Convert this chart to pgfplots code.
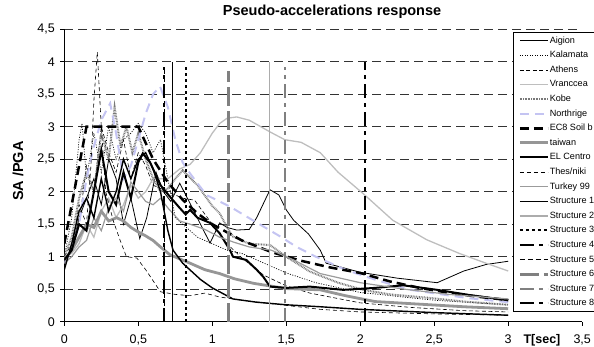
\documentclass[border=0pt]{standalone}
\usepackage{fontspec}
\setmainfont{Liberation Sans}
\usepackage{pgfplots}
\pgfplotsset{compat=1.18}
\definecolor{lav}{RGB}{196,196,242}
\definecolor{vgray}{RGB}{190,190,190}
\definecolor{tgray}{RGB}{150,150,150}
\definecolor{kgray}{RGB}{120,120,120}
\definecolor{ugray}{RGB}{155,155,155}
\definecolor{sgray}{RGB}{172,172,172}
\definecolor{dgray}{RGB}{128,128,128}
\begin{document}
\begin{tikzpicture}
\useasboundingbox (-64.3pt,-24.3pt) rectangle (529.7pt,321.7pt);
\begin{axis}[
 scale only axis, width=517.9pt, height=292.5pt,
 xmin=0,xmax=3.5,ymin=0,ymax=4.5,
 axis x line*=bottom, axis y line*=left,
 axis line style={line width=0.9pt, black},
 xtick={0,0.5,1,1.5,2,2.5,3,3.5}, ytick={0,0.5,1,1.5,2,2.5,3,3.5,4,4.5},
 tick align=outside, major tick length=4pt, tick style={line width=0.9pt, black},
 ymajorgrids, major grid style={dash pattern=on 9pt off 5pt, black!80, line width=0.6pt},
 /pgf/number format/use comma, /pgf/number format/assume math mode=true,
 tick label style={font=\fontsize{12.5}{14}\selectfont},
 xticklabel style={yshift=-6pt}, yticklabel style={xshift=-2pt},
 title={Pseudo-accelerations response},
 title style={at={(axis description cs:0.517,1.027)}, anchor=base, font=\fontsize{14.5}{16}\selectfont\bfseries},
 ylabel={SA /PGA},
 ylabel style={at={(axis description cs:-0.0894,0.515)}, anchor=center, font=\fontsize{14.5}{16}\selectfont\bfseries},
 xlabel={T[sec]},
 xlabel style={at={(axis description cs:0.880,-0.076)}, anchor=base west, font=\fontsize{12.5}{14}\selectfont\bfseries},
 legend image code/.code={\draw[#1,line cap=butt] (0pt,0pt) -- (28pt,0pt);},
 legend style={at={(axis description cs:0.8665,0.990)}, anchor=north west, draw=black, line width=0.6pt, fill=white,
   font=\fontsize{9.1}{10}\selectfont, inner xsep=5pt, inner ysep=3.5pt, row sep=5.1pt, column sep=0pt,
   nodes={inner sep=0.4pt, text height=6.7pt, text depth=2pt},
   cells={anchor=west}},
]
% Aigion (thin black)
\addplot[black, line width=0.8pt] coordinates {
(0,0.95)(0.05,1.1)(0.1,1.6)(0.15,1.9)(0.2,2.2)(0.25,1.8)(0.3,2.5)(0.35,2.2)(0.4,1.5)(0.45,1.9)(0.51,1.28)(0.557,1.6)(0.62,2.3)(0.67,2.0)(0.72,1.85)(0.78,2.13)(0.85,1.82)(0.92,1.5)(0.985,1.21)(1.05,1.52)(1.1,1.45)(1.165,1.41)(1.25,1.42)(1.3,1.6)(1.39,2.03)(1.45,1.95)(1.5,1.72)(1.55,1.56)(1.65,1.35)(1.73,1.1)(1.77,0.9)(2.0,0.76)(2.25,0.67)(2.52,0.6)(2.7,0.78)(2.85,0.88)(3.0,0.93)};
\addlegendentry{Aigion}
% Kalamata (dotted)
\addplot[black, line width=0.7pt, dash pattern=on 1pt off 1.5pt] coordinates {
(0,1.0)(0.05,1.6)(0.1,2.8)(0.12,3.05)(0.15,2.2)(0.2,2.9)(0.25,2.3)(0.3,3.0)(0.35,2.5)(0.4,2.8)(0.45,2.9)(0.5,3.05)(0.55,2.9)(0.6,2.6)(0.65,2.8)(0.7,2.2)(0.75,1.6)(0.8,1.5)(0.9,1.3)(1.0,1.2)(1.1,1.1)(1.2,1.05)(1.3,0.95)(1.5,0.75)(1.7,0.6)(2.0,0.45)(2.5,0.33)(3.0,0.26)};
\addlegendentry{Kalamata}
% Athens (dashed thin)
\addplot[black, line width=0.6pt, dash pattern=on 4pt off 2.5pt] coordinates {
(0,1.0)(0.05,1.2)(0.1,1.5)(0.15,2.4)(0.2,2.0)(0.25,3.0)(0.3,2.6)(0.35,2.3)(0.4,2.8)(0.45,2.2)(0.5,2.6)(0.55,2.4)(0.6,2.1)(0.7,2.0)(0.8,1.9)(0.88,1.87)(1.0,1.5)(1.1,1.2)(1.2,0.98)(1.345,0.72)(1.5,0.55)(1.66,0.44)(2.0,0.29)(2.34,0.22)(2.7,0.17)(3.0,0.15)};
\addlegendentry{Athens}
% Vranccea
\addplot[vgray, line width=1.3pt] coordinates {
(0,1.0)(0.05,1.05)(0.1,1.2)(0.15,1.5)(0.2,1.3)(0.25,1.7)(0.3,1.9)(0.35,1.6)(0.4,1.8)(0.45,2.1)(0.5,1.9)(0.55,2.0)(0.6,2.2)(0.7,2.2)(0.78,2.35)(0.85,2.42)(0.92,2.6)(1.0,2.9)(1.05,3.05)(1.1,3.13)(1.165,3.15)(1.25,3.1)(1.39,2.92)(1.49,2.8)(1.6,2.76)(1.73,2.6)(1.85,2.3)(2.02,1.97)(2.22,1.56)(2.45,1.26)(2.67,1.05)(2.85,0.9)(3.0,0.78)};
\addlegendentry{Vranccea}
% Kobe
\addplot[kgray, line width=2pt, dash pattern=on 0.8pt off 0.8pt] coordinates {
(0,1.0)(0.05,1.3)(0.1,1.9)(0.15,2.3)(0.2,2.0)(0.25,2.9)(0.3,2.5)(0.34,3.3)(0.38,2.7)(0.42,3.0)(0.46,2.6)(0.5,2.9)(0.55,2.5)(0.6,2.2)(0.65,2.0)(0.7,2.05)(0.75,2.2)(0.8,2.33)(0.9,2.1)(1.0,1.78)(1.05,1.67)(1.1,1.45)(1.14,1.31)(1.25,1.2)(1.39,1.18)(1.5,1.0)(1.66,0.77)(1.85,0.6)(2.02,0.49)(2.2,0.42)(2.45,0.37)(2.7,0.31)(3.0,0.26)};
\addlegendentry{Kobe}
% Northrige
\addplot[lav, line width=2pt, dash pattern=on 9pt off 6pt] coordinates {
(0,0.9)(0.05,1.1)(0.1,1.5)(0.15,2.2)(0.2,2.7)(0.25,3.1)(0.31,3.36)(0.35,2.9)(0.4,2.2)(0.45,2.4)(0.5,2.8)(0.55,3.2)(0.6,3.5)(0.647,3.62)(0.7,3.3)(0.75,2.8)(0.8,2.45)(0.85,2.28)(0.96,1.95)(1.12,1.77)(1.23,1.62)(1.46,1.31)(1.57,1.15)(1.7,1.0)(1.9,0.8)(2.11,0.64)(2.34,0.49)(2.55,0.42)(2.74,0.36)(3.0,0.3)};
\addlegendentry{Northrige}
% EC8 Soil b
\addplot[black, line width=2.5pt, dash pattern=on 9pt off 5pt] coordinates {
(0,1.2)(0.15,3.0)(0.5,3.0)(0.6,2.5)(0.7,2.143)(0.8,1.875)(0.9,1.667)(1.0,1.5)(1.2,1.25)(1.4,1.071)(1.6,0.9375)(1.8,0.833)(2.0,0.75)(2.2,0.62)(2.4,0.521)(2.6,0.444)(2.8,0.383)(3.0,0.333)};
\addlegendentry{EC8 Soil b}
% taiwan
\addplot[tgray, line width=2.8pt] coordinates {
(0,0.95)(0.05,1.1)(0.1,1.3)(0.15,1.5)(0.2,1.45)(0.25,1.7)(0.3,1.55)(0.354,1.6)(0.4,1.55)(0.45,1.45)(0.5,1.38)(0.55,1.32)(0.6,1.25)(0.65,1.15)(0.714,1.03)(0.85,0.9)(0.95,0.8)(1.05,0.74)(1.15,0.66)(1.28,0.59)(1.5,0.51)(1.73,0.49)(1.9,0.4)(2.1,0.31)(2.4,0.27)(2.7,0.23)(3.0,0.2)};
\addlegendentry{taiwan}
% EL Centro
\addplot[black, line width=2pt] coordinates {
(0,0.95)(0.05,1.1)(0.1,1.5)(0.15,1.4)(0.2,2.0)(0.25,2.64)(0.3,2.0)(0.35,1.8)(0.4,2.3)(0.45,1.9)(0.5,2.45)(0.53,2.59)(0.58,2.45)(0.65,2.1)(0.715,1.92)(0.78,1.75)(0.82,1.65)(0.85,1.72)(0.9,1.6)(0.985,1.52)(1.05,1.36)(1.12,1.1)(1.14,1.0)(1.23,0.95)(1.3,0.8)(1.345,0.69)(1.39,0.54)(1.5,0.52)(1.66,0.54)(1.885,0.49)(2.1,0.52)(2.29,0.56)(2.52,0.49)(2.74,0.41)(3.0,0.33)};
\addlegendentry{EL Centro}
% Thes/niki
\addplot[black, line width=0.6pt, dash pattern=on 4pt off 3pt] coordinates {
(0,0.95)(0.05,1.1)(0.1,1.8)(0.15,1.5)(0.18,2.4)(0.2,3.4)(0.223,4.15)(0.25,3.0)(0.28,2.0)(0.33,1.56)(0.376,1.26)(0.42,1.0)(0.49,0.98)(0.55,0.8)(0.65,0.46)(0.75,0.42)(0.85,0.4)(0.95,0.44)(1.05,0.38)(1.2,0.33)(1.39,0.28)(1.73,0.19)(2.0,0.15)(2.5,0.12)(3.0,0.1)};
\addlegendentry{Thes/niki}
% Turkey 99
\addplot[ugray, line width=1.2pt] coordinates {
(0,0.9)(0.05,1.0)(0.1,1.15)(0.15,1.25)(0.2,1.6)(0.25,1.4)(0.3,1.75)(0.35,1.9)(0.4,1.7)(0.45,2.15)(0.5,2.0)(0.55,1.85)(0.6,1.8)(0.65,1.9)(0.7,1.75)(0.78,1.55)(0.85,1.5)(0.95,1.42)(1.05,1.3)(1.15,1.22)(1.25,1.15)(1.4,1.1)(1.55,0.95)(1.73,0.74)(2.0,0.6)(2.3,0.5)(2.6,0.42)(3.0,0.35)};
\addlegendentry{Turkey 99}
% extra decaying record
\addplot[black, line width=1.4pt, forget plot] coordinates {
(0,0.8)(0.05,1.2)(0.1,1.7)(0.15,1.9)(0.2,1.6)(0.25,2.2)(0.3,1.7)(0.35,2.0)(0.4,2.5)(0.45,2.2)(0.5,2.5)(0.55,2.6)(0.6,2.35)(0.65,2.0)(0.7,1.4)(0.735,1.1)(0.8,0.9)(0.92,0.65)(1.0,0.52)(1.14,0.35)(1.3,0.3)(1.5,0.26)(1.73,0.23)(2.0,0.19)(2.5,0.14)(3.0,0.1)};
% Structures
\addplot[black, line width=1.5pt] coordinates {(0.73,0)(0.73,4.0)};
\addlegendentry{Structure 1}
\addplot[sgray, line width=1.3pt] coordinates {(1.385,0)(1.385,4.0)};
\addlegendentry{Structure 2}
\addplot[black, line width=2pt, dash pattern=on 3pt off 3pt] coordinates {(0.82,0)(0.82,3.94)};
\addlegendentry{Structure 3}
\addplot[black, line width=2.2pt, dash pattern=on 14pt off 5pt on 4pt off 5pt] coordinates {(0.674,0)(0.674,3.92)};
\addlegendentry{Structure 4}
\addplot[black, line width=0.8pt, dash pattern=on 5pt off 3pt] coordinates {(0.674,0)(0.674,3.9)};
\addlegendentry{Structure 5}
\addplot[dgray, line width=3pt, dash pattern=on 19pt off 5pt] coordinates {(1.113,0)(1.113,3.85)};
\addlegendentry{Structure 6}
\addplot[dgray, line width=1.5pt, dash pattern=on 14pt off 5pt on 4pt off 5pt] coordinates {(1.491,0)(1.491,3.92)};
\addlegendentry{Structure 7}
\addplot[black, line width=2pt, dash pattern=on 14pt off 5pt on 4pt off 5pt] coordinates {(2.032,0)(2.032,4.0)};
\addlegendentry{Structure 8}
\end{axis}
\end{tikzpicture}
\end{document}
